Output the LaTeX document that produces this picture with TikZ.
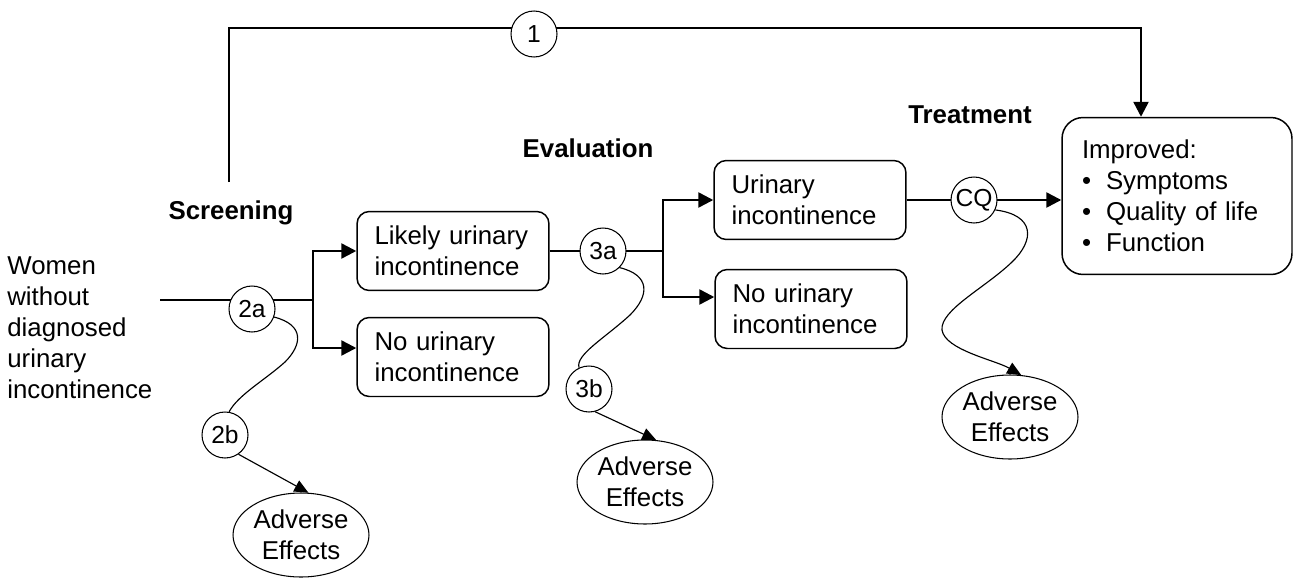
\documentclass[tikz,border=0pt]{standalone}
\usepackage{fontspec}
\setmainfont{Liberation Sans}
\usetikzlibrary{positioning,calc,arrows.meta,shapes.geometric,backgrounds}

\begin{document}
\begin{tikzpicture}[x=0.02cm,y=-0.02cm,
  font=\fontsize{14.7}{17.6}\selectfont,
  box/.style={draw,rounded corners=7pt,line width=0.85pt,align=left,text width=3.14cm,inner xsep=0.35cm,inner ysep=0pt,minimum height=1.58cm},
  circ/.style={circle,draw,fill=white,line width=0.6pt,minimum size=0.92cm,inner sep=0pt,font=\fontsize{14}{16}\selectfont},
  adv/.style={ellipse,draw,line width=0.6pt,minimum width=2.72cm,minimum height=1.68cm,inner sep=0pt,align=center},
  phase/.style={font=\fontsize{14.7}{17.6}\selectfont\bfseries,inner sep=0pt},
  trunk/.style={line width=1.4pt},
  flow/.style={trunk,-{Triangle[length=8.5pt,width=8.5pt]}},
  wiggle/.style={line width=0.65pt},
  wigarrow/.style={wiggle,-{Triangle[length=8pt,width=7pt]}}]
\useasboundingbox (0,0) rectangle (1294,578);

\node[anchor=west,align=left,inner sep=0pt] (women) at (7,328) {Women\\without\\diagnosed\\urinary\\incontinence};
\node[phase] (screening) at (231,213) {Screening};
\node[phase] (evaluation) at (588,148) {Evaluation};
\node[phase] (treatment) at (970,115) {Treatment};

\node[box] (likely) at (453,251) {Likely urinary\\incontinence};
\node[box] (nolikely) at (453,357) {No urinary\\incontinence};
\node[box] (uri) at (810,200) {Urinary\\incontinence};
\node[box] (nouri) at (811,309) {No urinary\\incontinence};
\node[draw,rounded corners=12pt,line width=0.85pt,align=left,text width=3.8cm,inner xsep=0.4cm,minimum height=3.14cm] (improved) at (1177,196)
  {Improved:\\\makebox[0.48cm][l]{\textbullet}Symptoms\\\makebox[0.48cm][l]{\textbullet}Quality of life\\\makebox[0.48cm][l]{\textbullet}Function};

\node[circ] (c1) at (534,34) {1};
\node[circ] (c2a) at (252,309) {2a};
\node[circ] (c2b) at (225,435) {2b};
\node[circ] (c3a) at (603,251) {3a};
\node[circ] (c3b) at (589,389) {3b};
\node[circ] (cq) at (974,200) {CQ};

\node[adv] (ae2) at (301,535) {Adverse\\Effects};
\node[adv] (ae3) at (645,482) {Adverse\\Effects};
\node[adv] (ae4) at (1010,417) {Adverse\\Effects};

\coordinate (start) at (160,300);
\coordinate (br1) at (313,300);
\coordinate (lo1) at (313,348);
\coordinate (br2) at (663,251);
\coordinate (lo2) at (663,297);
\coordinate (scrup) at (229,182);
\coordinate (topright) at (1141,28);

% main paths, behind the circles
\begin{pgfonlayer}{background}
\draw[trunk] (start) -- (br1);
\draw[flow] (br1) |- (likely.west);
\draw[flow] (br1) |- (lo1 -| nolikely.west);
\draw[trunk] (likely.east) -- (br2);
\draw[flow] (br2) |- (uri.west);
\draw[flow] (br2) |- (lo2 -| nouri.west);
\draw[flow] (uri.east) -- (uri.east -| improved.west);
\draw[flow] (scrup) |- (topright) -- (topright |- improved.north);
\end{pgfonlayer}

% harms
\draw[wiggle] (c2a.-20) .. controls (305,325) and (302,345) .. (285,362) .. controls (265,380) and (238,395) .. (c2b.80);
\draw[wigarrow] (c2b.-55) -- (ae2.80);
\draw[wiggle] (c3a.-45) .. controls (650,275) and (650,295) .. (630,315) .. controls (605,338) and (575,355) .. (c3b.115);
\draw[wigarrow] (c3b.-75) -- (ae3.75);
\draw[wigarrow] (cq.-25) .. controls (1035,215) and (1035,240) .. (1012,262) .. controls (985,288) and (940,310) .. (942,330) .. controls (945,350) and (995,360) .. (ae4.75);
\end{tikzpicture}
\end{document}
